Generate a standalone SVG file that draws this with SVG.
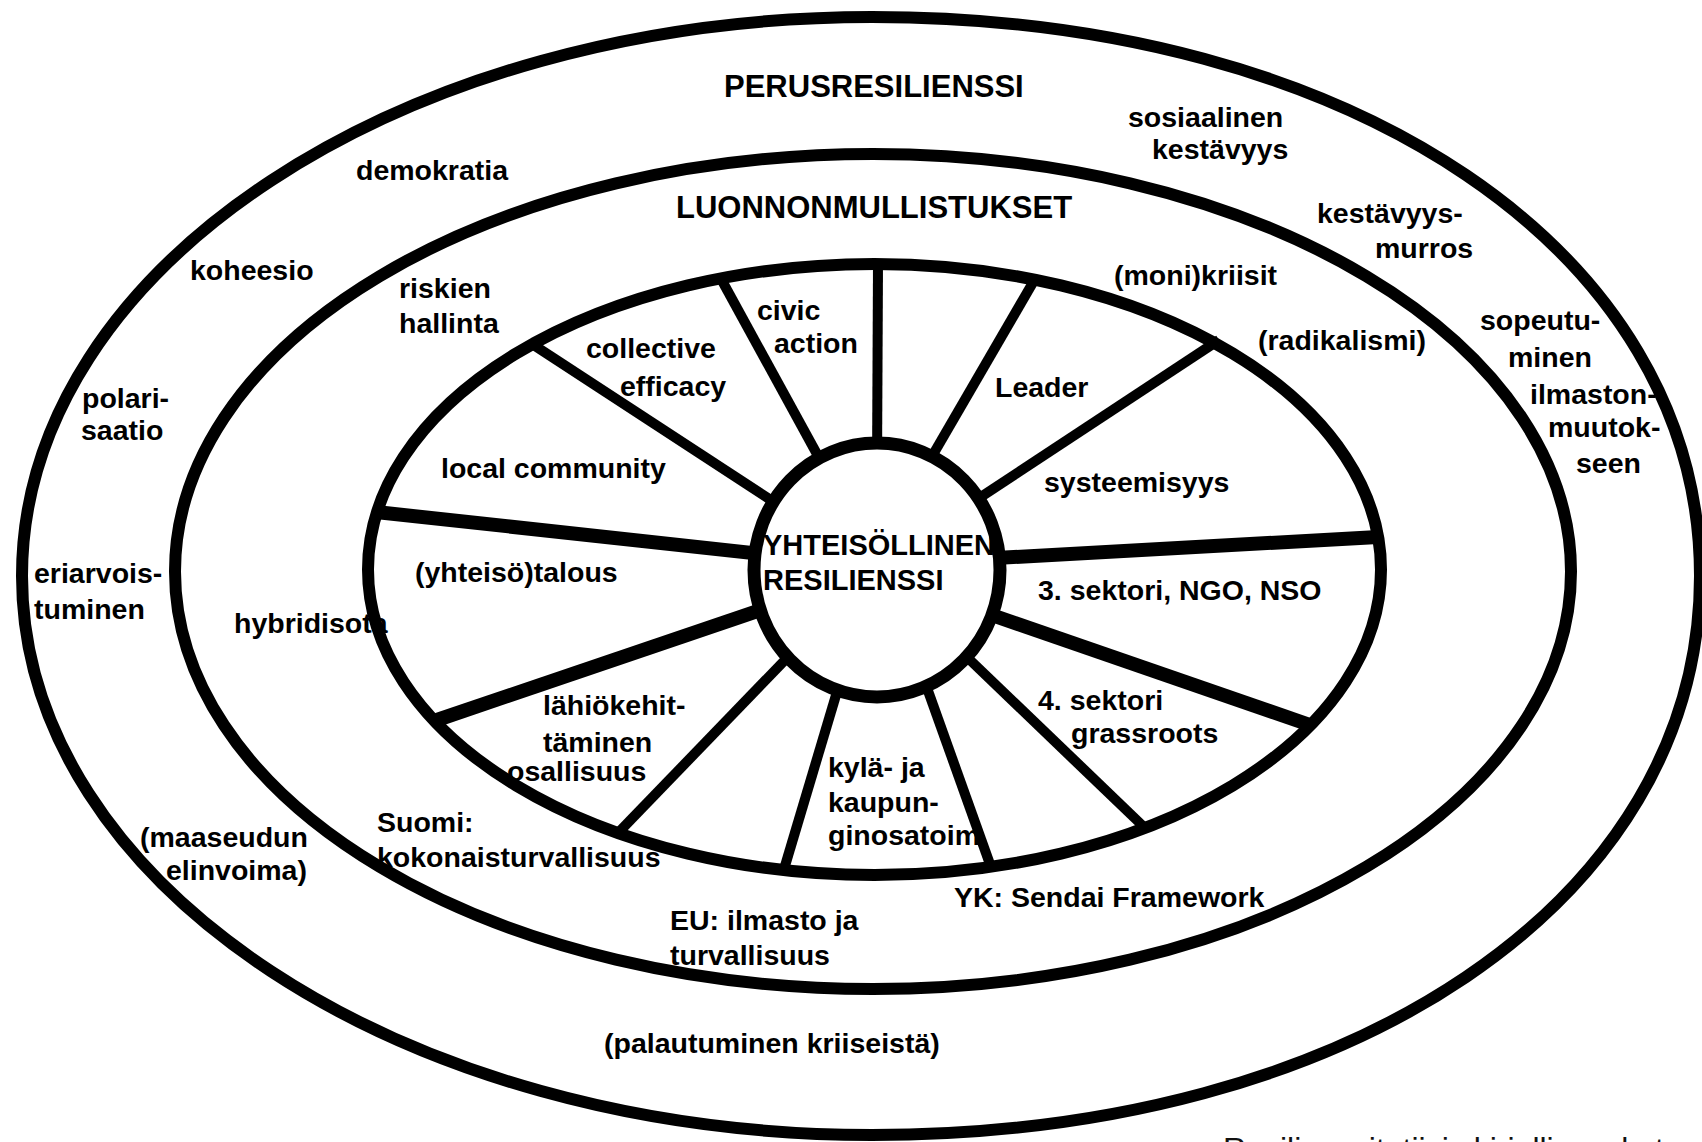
<svg xmlns="http://www.w3.org/2000/svg" width="1702" height="1142" viewBox="0 0 1702 1142">
<style>
.ring{fill:none;stroke:#000;stroke-width:12}
.hub{fill:#fff;stroke:#000;stroke-width:13}
.sp{stroke:#000;stroke-width:10;stroke-linecap:butt}
.spk{stroke:#000;stroke-width:14;stroke-linecap:butt}
text{font-family:"Liberation Sans",Arial,sans-serif;font-weight:bold;font-size:28.5px;fill:#000}
.h{font-size:31px}
.c{font-size:29px}
.note{font-weight:normal;font-size:32px;fill:#111}
</style>
<rect width="1702" height="1142" fill="#fff"/>
<g id="ring-outer"><path class="ring" d="M872 17 C1352 17 1700 252 1700 576 C1700 900 1352 1135 872 1135 C402.5 1135 22 884.7 22 576 C22 267.3 402.5 17 872 17 Z"/></g>
<g id="ring-middle"><ellipse class="ring" cx="873" cy="571.5" rx="698" ry="417.5"/></g>
<g id="ring-inner"><ellipse class="ring" cx="874.5" cy="569.5" rx="506.5" ry="305.5"/></g>
<g id="connectors">
<line class="sp" x1="878" y1="264" x2="877" y2="470"/>
<line class="sp" x1="720" y1="277" x2="835" y2="487"/>
<line class="sp" x1="1035" y1="279" x2="920" y2="477"/>
<line class="sp" x1="529" y1="342" x2="800" y2="519"/>
<line class="sp" x1="1219" y1="340" x2="955" y2="514"/>
<line class="spk" x1="376" y1="512" x2="790" y2="557"/>
<line class="spk" x1="1378" y1="537" x2="960" y2="560"/>
<line class="spk" x1="434" y1="721" x2="790" y2="600"/>
<line class="spk" x1="1310" y1="725" x2="960" y2="604"/>
<line class="sp" x1="618" y1="833" x2="815" y2="629"/>
<line class="sp" x1="1145" y1="828" x2="945" y2="636"/>
<line class="sp" x1="783.5" y1="871" x2="845" y2="665"/>
<line class="sp" x1="991" y1="867" x2="917" y2="660"/>
</g>
<g id="hub"><ellipse class="hub" cx="877" cy="570" rx="123" ry="127"/>
<text class="c" x="763" y="555">YHTEISÖLLINEN</text>
<text class="c" x="763" y="590">RESILIENSSI</text></g>
<g id="outer-labels">
<text class="h" x="724" y="97">PERUSRESILIENSSI</text>
<text x="356" y="180">demokratia</text>
<text x="190" y="280">koheesio</text>
<text x="82" y="408">polari-</text>
<text x="81" y="440">saatio</text>
<text x="34" y="583">eriarvois-</text>
<text x="34" y="619">tuminen</text>
<text x="140" y="847">(maaseudun</text>
<text x="166" y="880">elinvoima)</text>
<text x="604" y="1053">(palautuminen kriiseistä)</text>
<text x="1128" y="127">sosiaalinen</text>
<text x="1152" y="159">kestävyys</text>
<text x="1317" y="223">kestävyys-</text>
<text x="1375" y="258">murros</text>
<text x="1480" y="330">sopeutu-</text>
<text x="1508" y="367">minen</text>
<text x="1530" y="404">ilmaston-</text>
<text x="1548" y="437">muutok-</text>
<text x="1576" y="473">seen</text>
</g>
<g id="middle-labels">
<text class="h" x="676" y="218">LUONNONMULLISTUKSET</text>
<text x="399" y="298">riskien</text>
<text x="399" y="333">hallinta</text>
<text x="234" y="633">hybridisota</text>
<text x="377" y="832">Suomi:</text>
<text x="377" y="867">kokonaisturvallisuus</text>
<text x="670" y="930">EU: ilmasto ja</text>
<text x="670" y="965">turvallisuus</text>
<text x="954" y="907">YK: Sendai Framework</text>
<text x="1114" y="285">(moni)kriisit</text>
<text x="1258" y="350">(radikalismi)</text>
</g>
<g id="sector-labels">
<text x="757" y="320">civic</text>
<text x="774" y="353">action</text>
<text x="586" y="358">collective</text>
<text x="620" y="396">efficacy</text>
<text x="995" y="397">Leader</text>
<text x="441" y="478">local community</text>
<text x="1044" y="492">systeemisyys</text>
<text x="415" y="582">(yhteisö)talous</text>
<text x="1038" y="600">3. sektori, NGO, NSO</text>
<text x="1038" y="710">4. sektori</text>
<text x="1071" y="743">grassroots</text>
<text x="543" y="715">lähiökehit-</text>
<text x="543" y="752">täminen</text>
<text x="507" y="781">osallisuus</text>
<text x="828" y="777">kylä- ja</text>
<text x="828" y="812">kaupun-</text>
<text x="828" y="845">ginosatoim</text>
</g>
<g id="caption"><text class="note" x="1223" y="1160">Resilienssit: tiivis kirjallisuuskatsaus</text></g>
</svg>
